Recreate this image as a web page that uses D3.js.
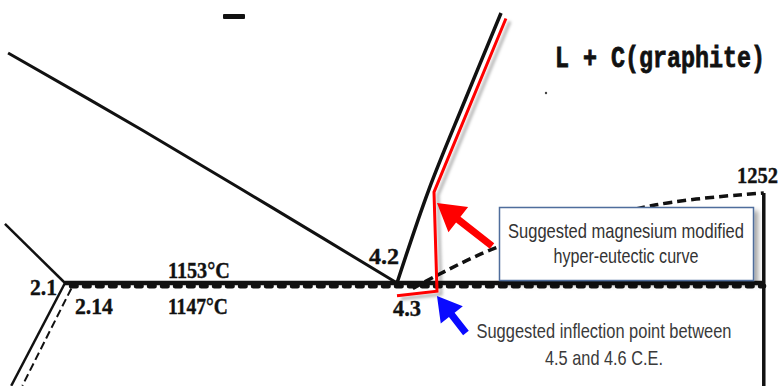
<!DOCTYPE html>
<html>
<head>
<meta charset="utf-8">
<script src="https://cdn.jsdelivr.net/npm/d3@7"></script>
<style>
  body { margin: 0; background: #fff; }
  svg { display: block; }
</style>
</head>
<body>
<div id="chart"></div>
<script>
// Fe-C diagram fragment: composition (wt% C / C.E.) vs temperature (°C)
const liquidusAustenite = [[1.74, 1406], [2.59, 1321], [3.40, 1237], [4.2, 1153]];
const solidusUpper = [[1.72, 1218], [2.1, 1153]];
const solidusLower = [[2.1, 1153], [1.76, 1040]];
const solidusMeta = [[2.14, 1147], [1.83, 1040]];
const liquidusGraphite = [[4.2, 1153], [4.40, 1255], [4.63, 1354], [4.858, 1450]];
const liquidusCementite = [[4.3, 1147], [4.83, 1192], [5.84, 1239], [6.52, 1252]];
const cementiteLine = [[6.52, 1252], [6.52, 1030]];
const eutecticStable = [[2.1, 1153], [6.52, 1153]];
const eutecticMeta = [[2.14, 1147], [6.52, 1147]];
const mgCurve = [[4.2, 1139], [4.453, 1144], [4.434, 1253], [4.889, 1444]];

// point labels: text, composition, temperature (left baseline)
const pointLabels = [
  ["2.1", 1.879, 1139.8],
  ["2.14", 2.163, 1118.9],
  ["1153°C", 2.751, 1158.5],
  ["1147°C", 2.751, 1118.9],
  ["4.2", 4.023, 1173.9],
  ["4.3", 4.175, 1116.7],
  ["1252", 6.35, 1263]
];
const regionLabel = ["L + C(graphite)", 5.199, 1390.6];

// arrows: [tail, tip]
const mgArrow = [[4.801, 1193.7], [4.453, 1241]];
const inflectionArrow = [[4.636, 1098], [4.453, 1138.7]];

const calloutMg = ["Suggested magnesium modified", "hyper-eutectic curve"];
const calloutInflection = ["Suggested inflection point between", "4.5 and 4.6 C.E."];

const width = 778, height = 386;

const x = d3.scaleLinear().domain([2.1, 4.2]).range([65, 397]);
const y = d3.scaleLinear().domain([1153, 1252]).range([283, 193]);

const svg = d3.select('#chart')
  .append('svg')
  .attr('width', width)
  .attr('height', height);

const defs = svg.append('defs');
defs.append('filter').attr('id', 'boxShadow')
  .attr('x', '-10%').attr('y', '-20%').attr('width', '130%').attr('height', '150%')
  .append('feDropShadow')
  .attr('dx', 4).attr('dy', 4).attr('stdDeviation', 2.5)
  .attr('flood-color', '#000').attr('flood-opacity', 0.35);
defs.append('filter').attr('id', 'lineShadow')
  .attr('x', '-20%').attr('y', '-20%').attr('width', '140%').attr('height', '140%')
  .append('feDropShadow')
  .attr('dx', 4).attr('dy', 3).attr('stdDeviation', 1.5)
  .attr('flood-color', '#000').attr('flood-opacity', 0.3);

const line = d3.line().x(d => x(d[0])).y(d => y(d[1]));
const smooth = d3.line().x(d => x(d[0])).y(d => y(d[1])).curve(d3.curveCatmullRom.alpha(0.5));

const g = svg.append('g');

// eutectic lines (metastable one drawn as scallops hugging the stable line)
g.append('path').attr('d', line(eutecticMeta))
  .attr('fill', 'none').attr('stroke', '#111').attr('stroke-width', 5)
  .attr('stroke-dasharray', '5 8').attr('stroke-linecap', 'round')
  .attr('transform', 'translate(0,-2.5)');
g.append('path').attr('d', line(eutecticStable))
  .attr('fill', 'none').attr('stroke', '#111').attr('stroke-width', 4.5);

// phase boundaries
g.append('path').attr('d', smooth(liquidusAustenite))
  .attr('fill', 'none').attr('stroke', '#111').attr('stroke-width', 3);
g.append('path').attr('d', line(solidusUpper))
  .attr('fill', 'none').attr('stroke', '#111').attr('stroke-width', 2.5);
g.append('path').attr('d', line(solidusLower))
  .attr('fill', 'none').attr('stroke', '#111').attr('stroke-width', 2.5);
g.append('path').attr('d', line(solidusMeta))
  .attr('fill', 'none').attr('stroke', '#111').attr('stroke-width', 2)
  .attr('stroke-dasharray', '8 4');
g.append('path').attr('d', smooth(liquidusGraphite))
  .attr('fill', 'none').attr('stroke', '#111').attr('stroke-width', 3.5);
g.append('path').attr('d', smooth(liquidusCementite))
  .attr('fill', 'none').attr('stroke', '#111').attr('stroke-width', 3.5)
  .attr('stroke-dasharray', '9 5');
g.append('path').attr('d', line(cementiteLine))
  .attr('fill', 'none').attr('stroke', '#111').attr('stroke-width', 3.5);

// suggested Mg modified curve
g.append('path').attr('d', line(mgCurve))
  .attr('fill', 'none').attr('stroke', '#ff0000').attr('stroke-width', 3)
  .attr('stroke-linejoin', 'miter')
  .attr('filter', 'url(#lineShadow)');

// labels
const labelWidths = { "2.1": 27, "2.14": 38, "1153°C": 62, "1147°C": 60, "4.2": 30, "4.3": 28, "1252": 41 };
g.selectAll('text.pt')
  .data(pointLabels)
  .enter().append('text')
    .attr('class', 'pt')
    .attr('x', d => x(d[1]))
    .attr('y', d => y(d[2]))
    .attr('font-family', '"Liberation Serif", serif')
    .attr('font-weight', 'bold')
    .attr('font-size', 24)
    .attr('fill', '#111')
    .attr('stroke', '#111').attr('stroke-width', 0.4)
    .attr('textLength', d => labelWidths[d[0]])
    .attr('lengthAdjust', 'spacingAndGlyphs')
    .text(d => d[0]);

g.append('text')
  .attr('x', x(regionLabel[1]))
  .attr('y', y(regionLabel[2]))
  .attr('font-family', '"Liberation Mono", monospace')
  .attr('font-weight', 'bold')
  .attr('font-size', 29)
  .attr('fill', '#111')
  .attr('stroke', '#111').attr('stroke-width', 0.8)
  .attr('textLength', 210)
  .attr('lengthAdjust', 'spacingAndGlyphs')
  .text(regionLabel[0]);

// cropped fragment at top and a speck from the scan
g.append('rect').attr('x', 223).attr('y', 14).attr('width', 22).attr('height', 5)
  .attr('rx', 1).attr('fill', '#111');
g.append('circle').attr('cx', 546).attr('cy', 93).attr('r', 1.2).attr('fill', '#444');

// arrows
function arrowPath(a, b, headLen, headW, shaftW) {
  const x0 = x(a[0]), y0 = y(a[1]), x1 = x(b[0]), y1 = y(b[1]);
  const dx = x1 - x0, dy = y1 - y0, len = Math.hypot(dx, dy);
  const ux = dx / len, uy = dy / len, nx = -uy, ny = ux;
  const bx = x1 - ux * headLen, by = y1 - uy * headLen;
  const pts = [
    [x0 + nx * shaftW, y0 + ny * shaftW],
    [bx + nx * shaftW, by + ny * shaftW],
    [bx + nx * headW, by + ny * headW],
    [x1, y1],
    [bx - nx * headW, by - ny * headW],
    [bx - nx * shaftW, by - ny * shaftW],
    [x0 - nx * shaftW, y0 - ny * shaftW]
  ];
  return 'M' + pts.map(p => p.join(',')).join('L') + 'Z';
}
g.append('path').attr('d', arrowPath(mgArrow[0], mgArrow[1], 27, 16, 3.6)).attr('fill', '#ff0000');
g.append('path').attr('d', arrowPath(inflectionArrow[0], inflectionArrow[1], 24, 14, 3.6)).attr('fill', '#0a0aff');

// callout box
const box = g.append('g');
box.append('rect')
  .attr('x', 499.5).attr('y', 207.5).attr('width', 254).attr('height', 73)
  .attr('fill', '#fff').attr('stroke', '#4f6d9c').attr('stroke-width', 1.5)
  .attr('filter', 'url(#boxShadow)');
const calloutWidths = [236, 145];
box.selectAll('text')
  .data(calloutMg)
  .enter().append('text')
    .attr('x', 626)
    .attr('y', (d, i) => 238 + i * 25)
    .attr('text-anchor', 'middle')
    .attr('font-family', '"Liberation Sans", Arial, sans-serif')
    .attr('font-size', 21)
    .attr('fill', '#333')
    .attr('textLength', (d, i) => calloutWidths[i])
    .attr('lengthAdjust', 'spacingAndGlyphs')
    .text(d => d);

const inflWidths = [255, 118];
g.selectAll('text.infl')
  .data(calloutInflection)
  .enter().append('text')
    .attr('class', 'infl')
    .attr('x', 604)
    .attr('y', (d, i) => 338 + i * 27)
    .attr('text-anchor', 'middle')
    .attr('font-family', '"Liberation Sans", Arial, sans-serif')
    .attr('font-size', 21)
    .attr('fill', '#3a3a3a')
    .attr('textLength', (d, i) => inflWidths[i])
    .attr('lengthAdjust', 'spacingAndGlyphs')
    .text(d => d);
</script>
</body>
</html>
